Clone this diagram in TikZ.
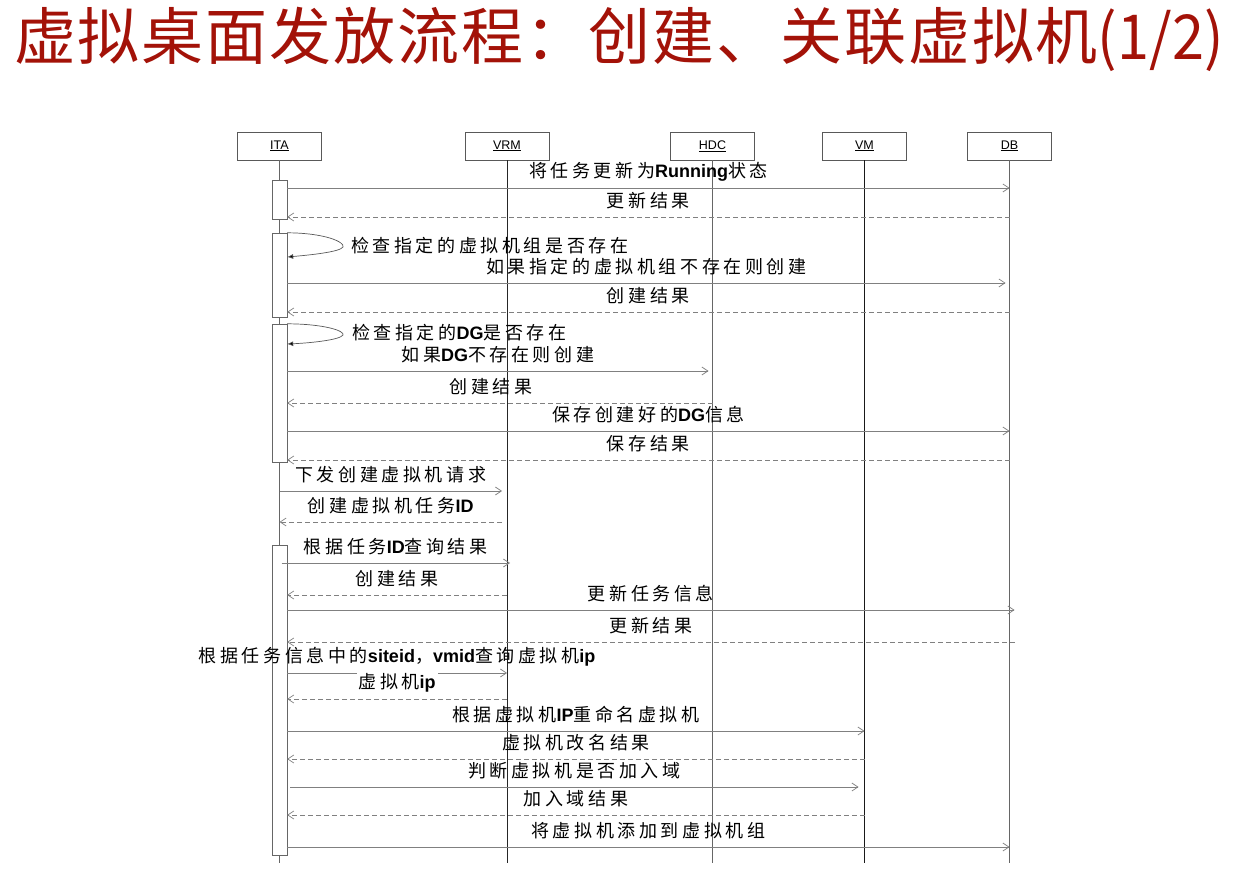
\documentclass[tikz,border=0pt]{standalone}
\usepackage{fontspec}
\usepackage{tikz}
\usetikzlibrary{arrows,arrows.meta}
\newfontfamily\cjkfont[LetterSpace=20]{Noto Sans CJK SC}
\newfontfamily\titlefont[LetterSpace=3]{Noto Sans CJK SC}
\newfontfamily\titlelatn[FakeStretch=0.93]{Noto Sans CJK SC}
\newfontfamily\latnfont{Liberation Sans}
\newcommand{\latn}[1]{{\latnfont\bfseries #1}}
\definecolor{titlered}{RGB}{163,18,8}

\begin{document}
\begin{tikzpicture}[x=1pt,y=-1pt,>={Straight Barb[length=6pt,width=8pt]},
  part/.style={draw=black!65,minimum width=84pt,minimum height=28pt,inner sep=0pt,font=\latnfont\fontsize{12.5}{14}\selectfont},
  life/.style={draw=black!60,line width=0.8pt},
  actbar/.style={draw=black!60,fill=white,minimum width=15pt,inner sep=0pt},
  msg/.style={draw=black!50,line width=0.7pt,->},
  ret/.style={msg,dash pattern=on 5pt off 3pt},
  lbl/.style={midway,yshift=16pt,inner sep=0pt,font=\cjkfont\fontsize{18}{18}\selectfont},
  note/.style={anchor=west,inner sep=0pt,font=\cjkfont\fontsize{18}{18}\selectfont},
  selfc/.style={draw=black!65,line width=0.7pt,-{Latex[length=6pt,width=5pt,fill=black]}}]
\useasboundingbox (0,0) rectangle (1237,882);
\node[anchor=west,text=titlered,inner sep=0pt,font=\titlefont\fontsize{62}{62}\selectfont] (title) at (14,39) {虚拟桌面发放流程：创建、关联虚拟机{\titlelatn(1/2)}};

\node[part] (ita) at (279.5,146) {\underline{ITA}};
\node[part] (vrm) at (507,146) {\underline{VRM}};
\node[part] (hdc) at (712.5,146) {\underline{HDC}};
\node[part] (vm) at (864.5,146) {\underline{VM}};
\node[part] (db) at (1009.5,146) {\underline{DB}};
\coordinate (end) at (0,863);
\draw[life] (ita) -- (ita |- end);
\draw[life,draw=black!85] (vrm) -- (vrm |- end);
\draw[life] (hdc) -- (hdc |- end);
\draw[life,draw=black!90] (vm) -- (vm |- end);
\draw[life] (db) -- (db |- end);

\node[actbar,minimum height=39pt] (b1) at (279.5,199.5) {};
\node[actbar,minimum height=84pt] (b2) at (279.5,275) {};
\node[actbar,minimum height=138pt] (b3) at (279.5,393) {};
\node[actbar,minimum height=310pt] (b4) at (279.5,700) {};

\draw[msg] (b1.east |- 0,188) -- node[lbl] (t1) {将任务更新为\latn{Running}状态} (db |- 0,188);
\draw[ret] (db |- 0,217) -- node[lbl] (t2) {更新结果} (b1.east |- 0,217);
\draw[selfc] (b2.north east) .. controls (325,233) and (345,242) .. (343,247) .. controls (340,252) and (310,255) .. (b2.east |- 0,257);
\node[note] (t3) at (351,246) {检查指定的虚拟机组是否存在};
\draw[msg] (b2.east |- 0,283) -- node[lbl] (t4) {如果指定的虚拟机组不存在则创建} ([xshift=-4pt]db |- 0,283);
\draw[ret] (db |- 0,312) -- node[lbl] (t5) {创建结果} (b2.east |- 0,312);
\draw[selfc] (b3.north east) .. controls (325,324) and (345,331) .. (343,335) .. controls (340,340) and (310,343) .. (b3.east |- 0,344);
\node[note] (t6) at (352,333) {检查指定的\latn{DG}是否存在};
\draw[msg] (b3.east |- 0,371) -- node[lbl] (t7) {如果\latn{DG}不存在则创建} ([xshift=-4pt]hdc |- 0,371);
\draw[ret] (hdc |- 0,403) -- node[lbl,xshift=-9pt] (t8) {创建结果} (b3.east |- 0,403);
\draw[msg] (b3.east |- 0,431) -- node[lbl] (t9) {保存创建好的\latn{DG}信息} (db |- 0,431);
\draw[ret] (db |- 0,460) -- node[lbl] (t10) {保存结果} (b3.east |- 0,460);
\draw[msg] (ita |- 0,491) -- node[lbl] (t11) {下发创建虚拟机请求} ([xshift=-5pt]vrm |- 0,491);
\draw[ret] ([xshift=-5pt]vrm |- 0,522) -- node[lbl] (t12) {创建虚拟机任务\latn{ID}} (ita |- 0,522);
\draw[msg] ([xshift=2pt]ita |- 0,563) -- node[lbl] (t13) {根据任务\latn{ID}查询结果} ([xshift=3pt]vrm |- 0,563);
\draw[ret] (vrm |- 0,595) -- node[lbl] (t14) {创建结果} (b4.east |- 0,595);
\draw[msg] (b4.east |- 0,610) -- node[lbl] (t15) {更新任务信息} ([xshift=5pt]db |- 0,610);
\draw[ret] ([xshift=5pt]db |- 0,642) -- node[lbl] (t16) {更新结果} (b4.east |- 0,642);
\draw[msg] (b4.east |- 0,673) -- node[lbl] (t17) {根据任务信息中的\latn{siteid}，\latn{vmid}查询虚拟机\latn{ip}} (vrm |- 0,673);
\draw[ret] (vrm |- 0,699) -- node[lbl,fill=white,inner sep=2pt] (t18) {虚拟机\latn{ip}} (b4.east |- 0,699);
\draw[msg] (b4.east |- 0,731) -- node[lbl] (t19) {根据虚拟机\latn{IP}重命名虚拟机} (vm |- 0,731);
\draw[ret] (vm |- 0,759) -- node[lbl] (t20) {虚拟机改名结果} (b4.east |- 0,759);
\draw[msg] ([xshift=3pt]b4.east |- 0,787) -- node[lbl] (t21) {判断虚拟机是否加入域} ([xshift=-6pt]vm |- 0,787);
\draw[ret] (vm |- 0,815) -- node[lbl] (t22) {加入域结果} (b4.east |- 0,815);
\draw[msg] (b4.east |- 0,847) -- node[lbl] (t23) {将虚拟机添加到虚拟机组} (db |- 0,847);
\end{tikzpicture}
\end{document}
